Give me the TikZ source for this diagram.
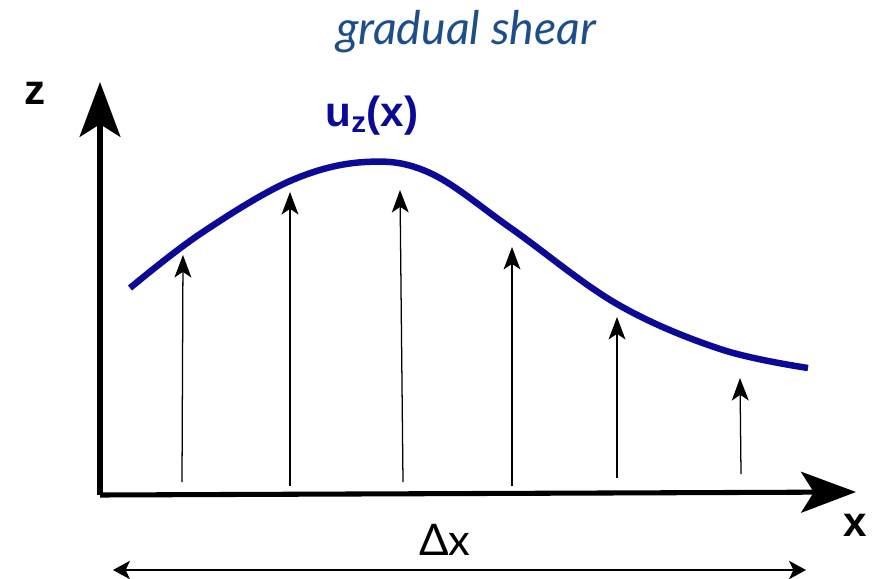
\documentclass[tikz,border=0pt]{standalone}
\usepackage{fontspec}
\setmainfont{Lato}
\newfontfamily\boldsans{Liberation Sans}
\usetikzlibrary{positioning,arrows.meta}
\usepackage{xcolor}
\definecolor{titleblue}{RGB}{28,78,138}
\definecolor{curveblue}{RGB}{10,10,150}

\begin{document}
\begin{tikzpicture}[x=0.025cm,y=-0.025cm,
  axis/.style={line width=3.6pt,-{Stealth[length=39pt,width=29pt,inset=9pt]}},
  liftarrow/.style={line width=0.9pt,-{Stealth[length=16pt,width=12pt,inset=4pt]}},
  span/.style={line width=1.4pt,{Stealth[length=12pt,width=13pt,inset=3pt]}-{Stealth[length=12pt,width=13pt,inset=3pt]}},
  axlabel/.style={font=\boldsans\bfseries\fontsize{30}{30}\selectfont}]
\useasboundingbox (0,0) rectangle (880,578);
\node[text=titleblue,font=\itshape\fontsize{33}{33}\selectfont] (title) at (466,32) {gradual shear};
% axes
\coordinate (O) at (100,495);
\coordinate (ztip) at (100,82);
\coordinate (xtip) at (856,492);
\draw[axis] (O) -- (ztip);
\draw[axis] (O) -- (xtip);
\node[axlabel] (zlab) at (35,93) {z};
\node[axlabel] (xlab) at (855,525) {x};
% displacement curve
\draw[curveblue,line width=4.6pt] plot[smooth,tension=0.6] coordinates
  {(130,288) (200,234) (290,181) (365,162) (430,173) (512,229) (617,304) (720,349) (808,368)};
\node[text=curveblue,font=\boldsans\bfseries\fontsize{30}{30}\selectfont] (uz) at (372,116) {u\textsubscript{z}(x)};
% lift arrows
\foreach \i/\xb/\yb/\xt/\yt in {1/182/482/183/255, 2/290/486/290/192, 3/403/482/400/190,
                                4/512/486/512/247, 5/617/478/617/317, 6/741/474/740/378} {
  \coordinate (b\i) at (\xb,\yb);
  \coordinate (t\i) at (\xt,\yt);
  \draw[liftarrow] (b\i) -- (t\i);
}
% width of the shear zone
\coordinate (dl) at (113,570);
\coordinate (dr) at (806,570);
\draw[span] (dl) -- (dr);
\node[font=\fontsize{31}{31}\selectfont] (dx) at (445,540) {Δx};
\end{tikzpicture}
\end{document}
